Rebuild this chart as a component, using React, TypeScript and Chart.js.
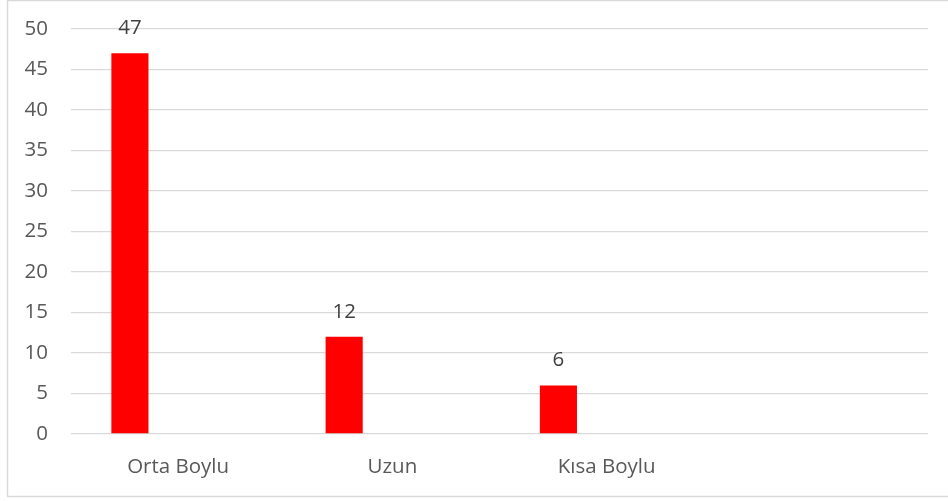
import React, { useEffect, useRef } from "react";
import { Chart, registerables } from "chart.js";

Chart.register(...registerables);

const categories = ["Orta Boylu", "Uzun", "Kısa Boylu", ""];
const seriesValues = [47, 12, 6, null];
const emptySeries = [null, null, null, null];
const yMax = 50;
const yStep = 5;

const TEXT = "#595959";
const LABEL_TEXT = "#404040";
const GRID = "#d9d9d9";
const FONT = "'Open Sans', Lato, sans-serif";
const FONT_SIZE = 20.5;

const frame = {
  id: "frame",
  beforeDraw(chart: any) {
    const ctx = chart.ctx;
    ctx.save();
    ctx.fillStyle = "#ffffff";
    ctx.fillRect(0, 0, chart.width, chart.height);
    ctx.strokeStyle = GRID;
    ctx.lineWidth = 1.5;
    ctx.strokeRect(7.5, 0.5, chart.width + 10, 496);
    ctx.restore();
  },
};

const valueLabels = {
  id: "valueLabels",
  afterDatasetsDraw(chart: any) {
    const ctx = chart.ctx;
    const meta = chart.getDatasetMeta(0);
    ctx.save();
    ctx.fillStyle = LABEL_TEXT;
    ctx.font = `${FONT_SIZE}px ${FONT}`;
    ctx.textAlign = "center";
    ctx.textBaseline = "alphabetic";
    meta.data.forEach((bar: any, i: number) => {
      const v = seriesValues[i];
      if (v == null) return;
      ctx.fillText(String(v), bar.x, bar.y - 19);
    });
    ctx.restore();
  },
};

export default function App() {
  const ref = useRef<HTMLCanvasElement>(null);
  useEffect(() => {
    document.body.style.margin = "0";
    const chart = new Chart(ref.current!, {
      type: "bar",
      data: {
        labels: categories,
        datasets: [
          {
            label: "Seri 1",
            data: seriesValues,
            backgroundColor: "#ff0000",
            borderWidth: 0,
            barPercentage: 0.385,
            categoryPercentage: 0.9,
          },
          {
            label: "Seri 2",
            data: emptySeries,
            backgroundColor: "#ff0000",
            barPercentage: 0.385,
            categoryPercentage: 0.9,
          },
        ],
      },
      options: {
        responsive: false,
        animation: false,
        layout: { padding: { top: 29, right: 20, left: 0, bottom: 0 } },
        plugins: {
          legend: { display: false },
          tooltip: { enabled: false },
        },
        scales: {
          x: {
            grid: { display: false, drawTicks: false },
            border: { display: false },
            ticks: {
              color: TEXT,
              font: { size: FONT_SIZE, family: FONT },
              padding: 21,
              maxRotation: 0,
              autoSkip: false,
            },
            afterFit(scale: any) {
              scale.height = 67;
              scale.paddingLeft = 0;
              scale.paddingRight = 0;
            },
          },
          y: {
            min: 0,
            max: yMax,
            grid: { color: GRID, lineWidth: 1.3, drawTicks: false },
            border: { display: false },
            ticks: {
              stepSize: yStep,
              color: TEXT,
              font: { size: FONT_SIZE, family: FONT },
              padding: 23,
            },
            afterFit(scale: any) {
              scale.width = 71;
              scale.paddingTop = 0;
              scale.paddingBottom = 0;
            },
          },
        },
      },
      plugins: [frame, valueLabels],
    });
    return () => chart.destroy();
  }, []);
  return (
    <div style={{ position: "fixed", left: 0, top: 0, width: 948, height: 501 }}>
      <canvas ref={ref} width={948} height={501} />
    </div>
  );
}
